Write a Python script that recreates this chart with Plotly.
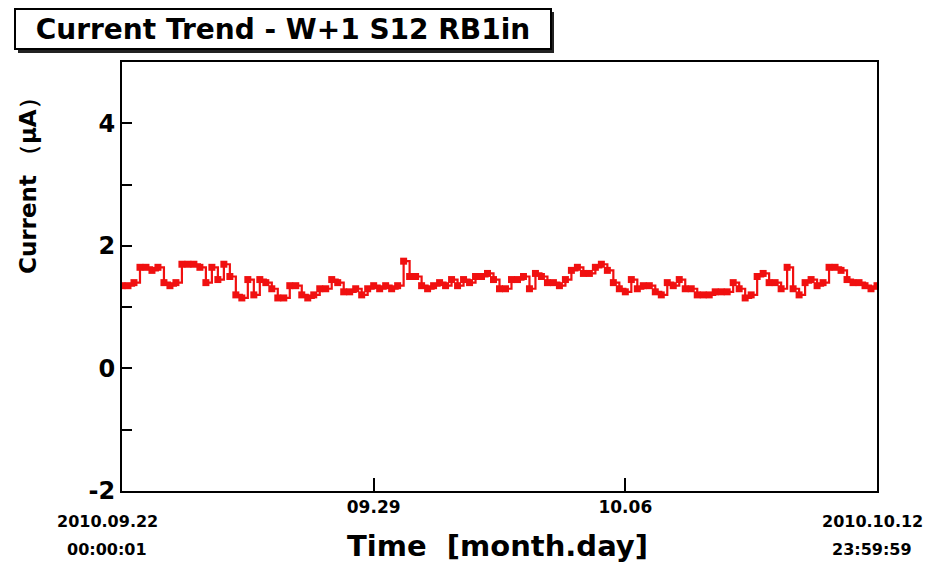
import pandas as pd
import plotly.graph_objects as go

# ---- data ----
start_time = "2010-09-22 00:00:01"
end_time = "2010-10-12 23:59:59"
current_uA = [
    1.35, 1.35, 1.4, 1.65, 1.65, 1.6, 1.65, 1.4, 1.35, 1.4,
    1.7, 1.7, 1.7, 1.65, 1.4, 1.65, 1.45, 1.7, 1.5, 1.2,
    1.15, 1.45, 1.2, 1.45, 1.4, 1.3, 1.15, 1.15, 1.35, 1.35,
    1.2, 1.15, 1.2, 1.3, 1.3, 1.45, 1.4, 1.25, 1.25, 1.3,
    1.2, 1.3, 1.35, 1.3, 1.35, 1.3, 1.35, 1.75, 1.5, 1.5,
    1.35, 1.3, 1.35, 1.4, 1.35, 1.45, 1.35, 1.45, 1.4, 1.5,
    1.5, 1.55, 1.45, 1.3, 1.3, 1.45, 1.45, 1.5, 1.3, 1.55,
    1.5, 1.4, 1.4, 1.35, 1.45, 1.6, 1.65, 1.55, 1.55, 1.65,
    1.7, 1.6, 1.4, 1.3, 1.25, 1.45, 1.3, 1.35, 1.35, 1.25,
    1.2, 1.4, 1.35, 1.45, 1.3, 1.3, 1.2, 1.2, 1.2, 1.25,
    1.25, 1.25, 1.4, 1.3, 1.15, 1.2, 1.5, 1.55, 1.4, 1.4,
    1.3, 1.65, 1.3, 1.2, 1.4, 1.45, 1.35, 1.4, 1.65, 1.65,
    1.6, 1.45, 1.4, 1.4, 1.35, 1.3, 1.35,
]
times = pd.date_range(start_time, end_time, periods=len(current_uA))

x_tick_vals = ["2010-09-29", "2010-10-06"]
x_tick_text = ["09.29", "10.06"]
y_tick_vals = [-2, 0, 2, 4]
y_tick_text = ["-2", "0", "2", "4"]
y_minor_vals = [-1, 1, 3]

title_text = "Current Trend - W+1 S12 RB1in"
y_title = "Current （μA）"
x_title = "Time  [month.day]"
start_label = ["2010.09.22", "00:00:01"]
end_label = ["2010.10.12", "23:59:59"]

FONT = "DejaVu Sans, Liberation Sans, Arial, sans-serif"
RED = "#f01010"

# page body has an 8px margin: plot area sits at page px x 122..877, y 62..491
L, T, PW, PH = 122, 62, 755, 429


def px(xp):
    return (xp - L) / PW


def py(yp):
    return (T + PH - yp) / PH


fig = go.Figure()
fig.add_trace(go.Scatter(
    x=times, y=current_uA, mode="lines+markers",
    line=dict(shape="hv", color=RED, width=2.2),
    marker=dict(symbol="square", size=7, color=RED),
    showlegend=False, hoverinfo="x+y",
))

fig.update_layout(
    width=930, height=559,
    margin=dict(l=L - 8, r=61, t=T - 8, b=76, pad=0),
    paper_bgcolor="white", plot_bgcolor="white",
    font=dict(family=FONT, color="black"),
    xaxis=dict(
        type="date", range=[start_time, end_time],
        tickvals=x_tick_vals, ticktext=x_tick_text,
        ticks="inside", ticklen=13, tickwidth=1.5, tickcolor="black",
        showline=True, linecolor="black", linewidth=2, mirror=True,
        showgrid=False, zeroline=False,
        tickfont=dict(size=17, weight="bold"),
    ),
    yaxis=dict(
        range=[-2, 5], tickvals=y_tick_vals, ticktext=y_tick_text,
        ticks="inside", ticklen=10, tickwidth=1.5, tickcolor="black",
        minor=dict(tickvals=y_minor_vals, ticks="inside", ticklen=10, tickwidth=1.5,
                   tickcolor="black", showgrid=False),
        showline=True, linecolor="black", linewidth=2, mirror=True,
        showgrid=False, zeroline=False,
        tickfont=dict(size=24, weight="bold"),
    ),
)

# title box with shadow
fig.add_shape(type="rect", xref="paper", yref="paper",
              x0=px(18), x1=px(554), y0=py(53), y1=py(12),
              fillcolor="#222222", line=dict(width=0), layer="above")
fig.add_annotation(
    text=f"<b>{title_text}</b>", xref="paper", yref="paper",
    x=px(14), y=py(8), xanchor="left", yanchor="top",
    showarrow=False, width=534, height=38, align="center", valign="middle",
    bgcolor="white", bordercolor="black", borderwidth=2, borderpad=0,
    font=dict(size=28, family=FONT),
)

fig.add_annotation(
    text=f"<b>{y_title}</b>", textangle=-90, xref="paper", yref="paper",
    x=px(28), y=py(180), xanchor="center", yanchor="middle",
    showarrow=False, font=dict(size=23, family=FONT),
)
fig.add_annotation(
    text=f"<b>{x_title}</b>", xref="paper", yref="paper",
    x=px(497), y=py(546), xanchor="center", yanchor="middle",
    showarrow=False, font=dict(size=29, family=FONT),
)
for lbl, xc in [(start_label, 107), (end_label, 872)]:
    for line_txt, yc in zip(lbl, [521, 549]):
        fig.add_annotation(
            text=f"<b>{line_txt}</b>", xref="paper", yref="paper",
            x=px(xc), y=py(yc), xanchor="center", yanchor="middle",
            showarrow=False, font=dict(size=16, family=FONT),
        )

fig.write_html("out.html")
